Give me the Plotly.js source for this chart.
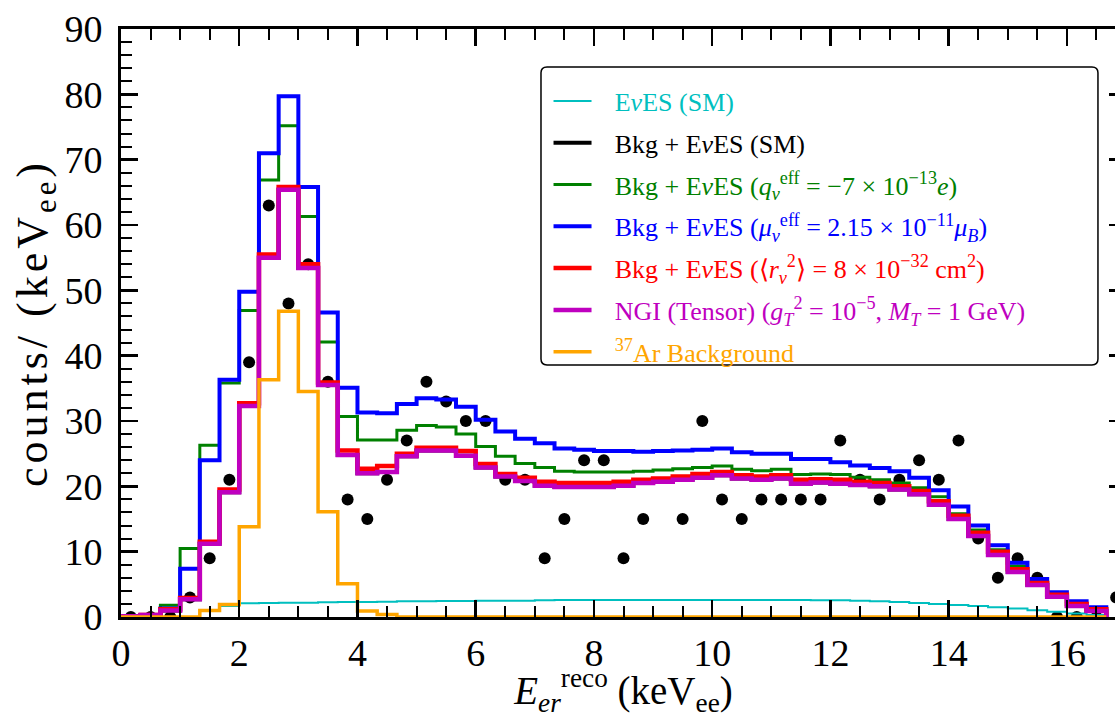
<!DOCTYPE html>
<html>
<head>
<meta charset="utf-8">
<script src="https://cdn.plot.ly/plotly-3.0.1.min.js"></script>
<style>
html, body { margin: 0; padding: 0; overflow: hidden; background: #fff; }
#chart { width: 1135px; height: 718px; }
#chart .ytitle { letter-spacing: 4px; }
</style>
</head>
<body>
<div id="chart"></div>
<script>
// Bin width of the reconstructed-energy histogram (keV_ee)
const binWidth = 1 / 3;

// Observed data points (counts per keV_ee), one per bin (bin 27 hidden / absent)
const dataCounts = [0, 0, 0, 3, 9, 21, 39, 63, 48, 54, 36, 18, 15, 21, 27, 36, 33, 30, 30, 21,
  21, 9, 15, 24, 24, 9, 15, null, 15, 30, 18, 15, 18, 18, 18, 18, 27, 21, 18, 21,
  24, 21, 27, 12, 6, 9, 6, 0, 0, 0, 3];

// E nu ES (SM)
const evesSM = [0, 0, 0, 0, 0.9, 1.7, 2.1, 2.15, 2.2, 2.2, 2.25, 2.3, 2.3, 2.35, 2.4, 2.4, 2.45, 2.45, 2.5, 2.5,
  2.5, 2.55, 2.6, 2.6, 2.6, 2.6, 2.6, 2.6, 2.6, 2.6, 2.6, 2.6, 2.6, 2.6, 2.6, 2.55, 2.55, 2.5, 2.4, 2.3,
  2.15, 2.0, 1.85, 1.7, 1.5, 1.3, 1.05, 0.8, 0.55, 0.3];

// Bkg + E nu ES (SM)
const bkgSM = [0.1, 0.3, 1.0, 2.7, 11.2, 19.1, 32.3, 55.0, 65.4, 53.4, 35.5, 24.8, 22.0, 22.2, 24.6, 25.5, 25.5, 24.7, 22.9, 21.5,
  20.8, 20.1, 19.9, 19.9, 19.9, 20.1, 20.5, 20.7, 21.0, 21.3, 21.7, 21.2, 21.0, 21.2, 20.4, 20.6, 20.4, 20.2, 20.0, 19.5,
  18.8, 17.2, 15.0, 12.4, 9.5, 6.9, 4.9, 3.1, 1.7, 0.9];

// Bkg + E nu ES (millicharge q)
const bkgCharge = [0.1, 0.3, 1.8, 10.5, 26.3, 35.8, 46.9, 66.9, 75.2, 61.3, 42.1, 30.7, 27.1, 27.1, 28.6, 29.3, 29.1, 28.0, 26.1, 24.6,
  23.5, 22.9, 22.3, 22.2, 22.2, 22.2, 22.3, 22.5, 22.7, 22.9, 23.1, 22.6, 22.4, 22.6, 21.8, 21.9, 21.8, 21.4, 21.0, 20.5,
  19.8, 18.4, 15.8, 13.3, 10.3, 7.8, 5.5, 3.5, 2.2, 1.3];

// Bkg + E nu ES (magnetic moment)
const bkgMagnetic = [0.1, 0.3, 1.3, 7.4, 24.0, 36.3, 49.8, 71.0, 79.7, 65.8, 46.6, 35.1, 31.3, 31.2, 32.6, 33.5, 33.3, 32.2, 30.2, 28.4,
  27.3, 26.6, 25.8, 25.6, 25.4, 25.4, 25.3, 25.4, 25.5, 25.6, 25.8, 25.2, 25.0, 25.0, 24.2, 24.2, 23.7, 23.2, 22.8, 22.3,
  21.3, 19.4, 16.9, 14.0, 11.0, 8.3, 5.8, 3.8, 2.4, 1.5];

// Bkg + E nu ES (charge radius <r^2>)
const bkgRadius = [0.1, 0.3, 1.2, 2.9, 11.5, 19.5, 32.7, 55.5, 65.8, 54.0, 35.9, 25.5, 22.7, 23.1, 25.0, 25.9, 25.9, 25.4, 23.4, 21.9,
  21.3, 20.7, 20.5, 20.5, 20.5, 20.7, 21.0, 21.2, 21.5, 21.9, 22.2, 21.7, 21.5, 21.7, 21.0, 21.1, 21.0, 20.7, 20.5, 20.0,
  19.3, 17.7, 15.5, 12.9, 10.0, 7.3, 5.2, 3.4, 2.0, 1.2];

// NGI (Tensor)
const ngiTensor = [0.1, 0.3, 1.0, 2.7, 11.2, 19.1, 32.3, 55.0, 65.4, 53.4, 35.5, 24.8, 22.0, 22.2, 24.6, 25.5, 25.5, 24.7, 22.9, 21.5,
  20.8, 20.1, 19.9, 19.9, 19.9, 20.1, 20.5, 20.7, 21.0, 21.3, 21.7, 21.2, 21.0, 21.2, 20.4, 20.6, 20.4, 20.2, 20.0, 19.5,
  18.8, 17.2, 15.0, 12.4, 9.5, 6.9, 4.9, 3.1, 1.7, 0.9];

// 37Ar background
const ar37 = [0, 0, 0, 0, 1.0, 1.9, 13.8, 36.3, 46.8, 34.5, 16.1, 5.1, 0.9, 0.4, 0, 0, 0, 0, 0, 0,
  0, 0, 0, 0, 0, 0, 0, 0, 0, 0, 0, 0, 0, 0, 0, 0, 0, 0, 0, 0,
  0, 0, 0, 0, 0, 0, 0, 0, 0, 0];

const xTickVals = [0, 2, 4, 6, 8, 10, 12, 14, 16];
const yTickVals = [0, 10, 20, 30, 40, 50, 60, 70, 80, 90];

const nu = '<i>ν</i>';
const legendNames = [
  ['#00BFBF', 'E' + nu + 'ES (SM)'],
  ['#000000', 'Bkg + E' + nu + 'ES (SM)'],
  ['#008000', 'Bkg + E' + nu + 'ES (<i>q</i><sub>' + nu + '</sub><sup>eff</sup> = −7 × 10<sup>−13</sup><i>e</i>)'],
  ['#0000FF', 'Bkg + E' + nu + 'ES (<i>μ</i><sub>' + nu + '</sub><sup>eff</sup> = 2.15 × 10<sup>−11</sup><i>μ</i><sub><i>B</i></sub>)'],
  ['#FF0000', 'Bkg + E' + nu + 'ES (⟨<i>r</i><sub>' + nu + '</sub><sup>2</sup>⟩ = 8 × 10<sup>−32</sup> cm<sup>2</sup>)'],
  ['#BF00BF', 'NGI (Tensor) (<i>g</i><sub><i>T</i></sub><sup>2</sup> = 10<sup>−5</sup>, <i>M</i><sub><i>T</i></sub> = 1 GeV)'],
  ['#FFA500', '<sup>37</sup>Ar Background']
];

function stepTrace(vals, idx, width) {
  const x = vals.map((_, i) => i * binWidth).concat([vals.length * binWidth]);
  const y = vals.concat([0]);
  const c = legendNames[idx][0];
  return {
    x: x, y: y, type: 'scatter', mode: 'lines',
    line: { shape: 'hv', color: c, width: width },
    name: '<span style="color:' + c + '">&nbsp;&nbsp;&#8201;' + legendNames[idx][1] + '</span>',
    legendgroup: 'g' + idx,
    hoverinfo: 'skip'
  };
}

const dotsTrace = {
  x: dataCounts.map((_, i) => (i + 0.5) * binWidth),
  y: dataCounts,
  type: 'scatter', mode: 'markers',
  marker: { color: '#000', size: 12 },
  showlegend: false,
  cliponaxis: true
};

const traces = [
  dotsTrace,
  stepTrace(evesSM, 0, 2),
  stepTrace(bkgSM, 1, 4),
  stepTrace(bkgCharge, 2, 3),
  stepTrace(bkgMagnetic, 3, 4),
  stepTrace(bkgRadius, 4, 4.5),
  stepTrace(ngiTensor, 5, 4.5),
  stepTrace(ar37, 6, 3.5)
];

const serif = 'Liberation Serif, Times New Roman, serif';

// legend frame (rounded box) in paper coordinates
const bx0 = 0.4179, bx1 = 0.9721, by0 = 0.4286, by1 = 0.9354, rx = 0.006, ry = 0.010;
const boxPath = 'M' + (bx0 + rx) + ',' + by1 +
  ' L' + (bx1 - rx) + ',' + by1 + ' Q' + bx1 + ',' + by1 + ' ' + bx1 + ',' + (by1 - ry) +
  ' L' + bx1 + ',' + (by0 + ry) + ' Q' + bx1 + ',' + by0 + ' ' + (bx1 - rx) + ',' + by0 +
  ' L' + (bx0 + rx) + ',' + by0 + ' Q' + bx0 + ',' + by0 + ' ' + bx0 + ',' + (by0 + ry) +
  ' L' + bx0 + ',' + (by1 - ry) + ' Q' + bx0 + ',' + by1 + ' ' + (bx0 + rx) + ',' + by1 + ' Z';

const layout = {
  width: 1135, height: 718,
  margin: { l: 121, r: 9, t: 29, b: 101 },
  paper_bgcolor: '#fff', plot_bgcolor: '#fff',
  font: { family: serif, color: '#000', size: 22 },
  showlegend: true,
  legend: {
    x: 0.4254, y: 0.9175, xanchor: 'left', yanchor: 'top',
    bgcolor: 'rgba(0,0,0,0)', borderwidth: 0,
    font: { family: serif, size: 26 },
    traceorder: 'grouped', tracegroupgap: 5,
    itemwidth: 38
  },
  shapes: [{
    type: 'path', xref: 'paper', yref: 'paper', path: boxPath,
    fillcolor: '#fff', line: { color: '#000', width: 1.5 }, layer: 'above'
  }],
  xaxis: {
    range: [0, 17], tickvals: xTickVals, ticktext: xTickVals.map(String),
    showline: true, linewidth: 3, linecolor: '#000', mirror: 'ticks',
    ticks: 'inside', ticklen: 17, tickwidth: 2.5, tickcolor: '#000',
    minor: { dtick: 0.5, tick0: 0, ticks: 'inside', ticklen: 11, tickwidth: 2, tickcolor: '#000' },
    showgrid: false, zeroline: false,
    tickfont: { family: serif, size: 38 },
    ticklabelstandoff: 0,
    title: { text: '<i>E</i><sub><i>er</i></sub><sup>reco</sup> (keV<sub>ee</sub>)', font: { family: serif, size: 39 }, standoff: 2 }
  },
  yaxis: {
    range: [0, 90], tickvals: yTickVals, ticktext: yTickVals.map(String),
    showline: true, linewidth: 3, linecolor: '#000', mirror: 'ticks',
    ticks: 'inside', ticklen: 17, tickwidth: 2.5, tickcolor: '#000',
    minor: { dtick: 2, tick0: 0, ticks: 'inside', ticklen: 11, tickwidth: 2, tickcolor: '#000' },
    showgrid: false, zeroline: false,
    tickfont: { family: serif, size: 38 },
    ticklabelstandoff: 8,
    title: { text: 'counts/ (keV<sub>ee</sub>)', font: { family: serif, size: 44 }, standoff: 4 }
  }
};

Plotly.newPlot('chart', traces, layout, { displayModeBar: false, staticPlot: true });
</script>
</body>
</html>
